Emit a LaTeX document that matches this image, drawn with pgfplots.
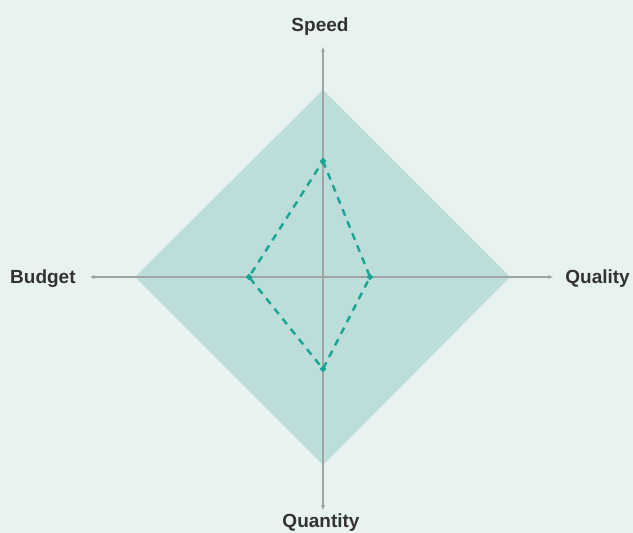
\documentclass[border=0pt]{standalone}
\usepackage{pgfplots}
\pgfplotsset{compat=1.18}
\usepackage{fontspec}
\setmainfont{Liberation Sans}
\usetikzlibrary{arrows.meta}
\definecolor{bgc}{HTML}{E8F3F1}
\definecolor{fillc}{HTML}{BCDDDA}
\definecolor{dashc}{HTML}{19A595}
\definecolor{axc}{HTML}{A0A4A4}
\definecolor{txt}{HTML}{333333}
\begin{document}
\begin{tikzpicture}
\path[use as bounding box, clip] (0,0) rectangle (633pt,533pt);
\begin{axis}[
  at={(0,0)}, anchor=south west,
  width=633pt, height=533pt, scale only axis,
  xmin=-323, xmax=310, ymin=-256, ymax=277,
  hide axis, clip=false,
]
\fill[bgc] (rel axis cs:0,0) rectangle (rel axis cs:1,1);
% filled area
\addplot[draw=none, fill=fillc] coordinates {(0,187) (187,0) (0,-188) (-188,0)} -- cycle;
% axes
\addplot[axc, line width=1.3pt, -{Stealth[length=5pt,width=4pt,open]}] coordinates {(0,0) (0,230)};
\addplot[axc, line width=1.3pt, -{Stealth[length=5pt,width=4pt,open]}] coordinates {(0,0) (0,-233)};
\addplot[axc, line width=1.3pt, -{Stealth[length=5pt,width=4pt,open]}] coordinates {(0,0) (230,0)};
\addplot[axc, line width=1.3pt, -{Stealth[length=5pt,width=4pt,open]}] coordinates {(0,0) (-233,0)};
% dashed series
\addplot[dashc, line width=2.4pt, dash pattern=on 7pt off 6pt, mark=*, mark size=1.6pt, mark options={solid}] coordinates {(0,116) (47,0) (0,-92) (-74,0)} -- cycle;
% labels
\node[anchor=base, text=txt, font=\fontsize{19}{21}\selectfont\bfseries] at (axis cs:-3,245) {Speed};
\node[anchor=base east, inner sep=0pt, text=txt, font=\fontsize{19}{21}\selectfont\bfseries] at (axis cs:307,-7) {Quality};
\node[anchor=base west, inner sep=0pt, text=txt, font=\fontsize{19}{21}\selectfont\bfseries] at (axis cs:-313,-7) {Budget};
\node[anchor=base, text=txt, font=\fontsize{19}{21}\selectfont\bfseries] at (axis cs:-2,-251) {Quantity};
\end{axis}
\end{tikzpicture}
\end{document}
